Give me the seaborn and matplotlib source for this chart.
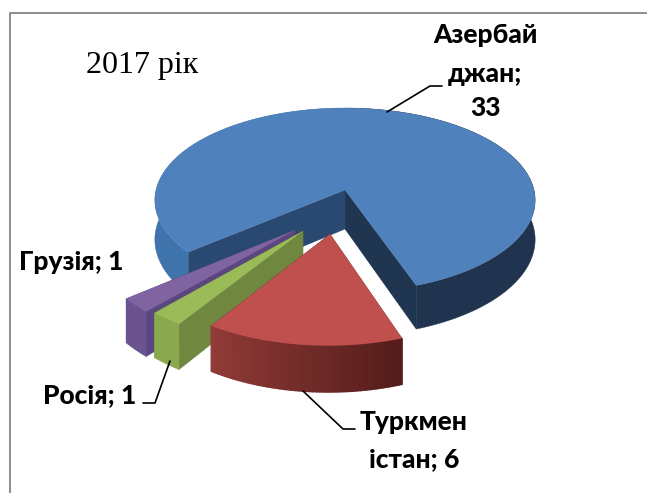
import numpy as np
import matplotlib
matplotlib.use("Agg")
import matplotlib.pyplot as plt
from matplotlib.patches import Polygon
from matplotlib.transforms import Transform
from matplotlib.colors import to_rgb
import seaborn as sns

categories = ["Азербайджан", "Туркменістан", "Росія", "Грузія"]
values = [33, 6, 1, 1]
title_text = "2017 рік"
label_lines = {
    "Азербайджан": ["Азербай", "джан;", "33"],
    "Туркменістан": ["Туркмен", "істан; 6"],
    "Росія": ["Росія; 1"],
    "Грузія": ["Грузія; 1"],
}
top_colors = ["#4f81bd", "#c0504d", "#9bbb59", "#8064a2"]

sns.set_theme(style="white")
palette = sns.color_palette(top_colors)
LABEL_FONT = ["Lato", "Noto Sans", "DejaVu Sans"]

CX, CY, AX, BY, K, DEPTH = 345.0, 190.0, 189.0, 91.0, 0.11, 39.0


def project(x, y, z=0.0):
    x, y = np.asarray(x, float), np.asarray(y, float)
    w = 1 + K * y
    return CX + AX * x / w, CY - BY * y / w + z * DEPTH / w


class Perspective(Transform):
    input_dims = output_dims = 2
    is_separable = False
    has_inverse = False

    def transform_non_affine(self, values):
        v = np.asarray(values, float)
        px, py = project(v[:, 0], v[:, 1])
        return np.column_stack([px, py])


def band(xs, ys):
    p0 = project(xs, ys, 0)
    p1 = project(xs, ys, 1)
    return np.column_stack([np.r_[p0[0], p1[0][::-1]], np.r_[p0[1], p1[1][::-1]]])


fig = plt.figure(figsize=(6.47, 4.93), dpi=100)
ax = fig.add_axes([0, 0, 1, 1])
wedges, _ = ax.pie(values, startangle=219.5, counterclock=False, colors=palette,
                   radius=1, center=(0, 0), frame=False,
                   wedgeprops={"linewidth": 0})
ax.set_aspect("auto")
ax.set_xlim(0, 647)
ax.set_ylim(493, 0)
ax.set_xticks([])
ax.set_yticks([])
ax.set_frame_on(False)

offsets = [(0, 0), (-0.075, -0.46), (-0.212, -0.43), (-0.252, -0.42)]
radii = [1.0, 0.98, 1.0, 1.0]
ranks = [0, 3, 2, 1]
wall_low = ["#1f3550", "#7a2e2c", "#6f873f", "#5b4780"]
wall_high = ["#2a4970", "#7a2e2c", "#6f873f", "#5b4780"]
arc_flat = [None, None, "#8aa84f", "#6b5390"]
red_left, red_right = np.array(to_rgb("#923b38")), np.array(to_rgb("#541c1a"))

persp = Perspective()
for i, w in enumerate(wedges):
    dx, dy = offsets[i]
    r = radii[i]
    w.set_center((dx, dy))
    w.set_radius(r)
    w.set_transform(persp + ax.transData)
    w.set_clip_on(False)
    base = 10 * ranks[i] + 1
    w.set_zorder(base + 5)
    t1, t2 = w.theta1, w.theta2

    # radial walls: low-angle edge first, then the high-angle edge
    for k, (theta, col) in enumerate(((t1, wall_low[i]), (t2, wall_high[i]))):
        a = np.radians(theta)
        poly = band(np.array([dx, dx + r * np.cos(a)]), np.array([dy, dy + r * np.sin(a)]))
        ax.add_patch(Polygon(poly, closed=True, fc=col, ec=col, lw=0.3,
                             zorder=base + k, clip_on=False))

    # outer wall
    if i == 0:
        # shaded differently on the left and right of the pie
        for lo, hi, col in ((t1, 90, "#20344f"), (90, t2, "#3f73ab")):
            a = np.radians(np.linspace(lo, hi, 80))
            ax.add_patch(Polygon(band(dx + r * np.cos(a), dy + r * np.sin(a)), closed=True,
                                 fc=col, ec=col, lw=0.3, zorder=base + 2, clip_on=False))
    elif i == 1:
        th = np.linspace(t1, t2, 61)
        for j in range(60):
            a = np.radians(th[j:j + 2])
            f = j / 59
            col = red_left * (1 - f) + red_right * f
            ax.add_patch(Polygon(band(dx + r * np.cos(a), dy + r * np.sin(a)), closed=True,
                                 fc=col, ec=col, lw=1.0, zorder=base + 2, clip_on=False))
    else:
        a = np.radians(np.linspace(t1, t2, 10))
        col = arc_flat[i]
        ax.add_patch(Polygon(band(dx + r * np.cos(a), dy + r * np.sin(a)), closed=True,
                             fc=col, ec=col, lw=0.3, zorder=base + 2, clip_on=False))

# Frame of the chart area
ax.plot([10, 10, 647], [493, 13, 13], color="#8c8c8c", lw=1.4, zorder=0.5, clip_on=False)

# Title
ax.text(142, 66, title_text, family="Liberation Serif", fontsize=23, ha="center",
        va="center", color="black", zorder=60)

# Labels
kw = dict(family=LABEL_FONT, fontweight=900, fontsize=19, ha="center", va="center",
          color="black", zorder=60)
for line, yy in zip(label_lines["Азербайджан"], (35, 74, 108)):
    ax.text(485, yy, line, **kw)
for line, yy in zip(label_lines["Туркменістан"], (422, 459)):
    ax.text(414, yy, line, **kw)
ax.text(71, 262, label_lines["Грузія"][0], **kw)
ax.text(90, 395, label_lines["Росія"][0], **kw)

# Leader lines
lk = dict(color="black", lw=1.2, zorder=70, clip_on=False)
ax.plot([387, 430, 442], [112, 86, 86], **lk)
ax.plot([170, 155, 143], [361, 403, 403], **lk)
ax.plot([303, 343, 355], [391, 429, 429], **lk)

fig.savefig("out.png", dpi=100)
